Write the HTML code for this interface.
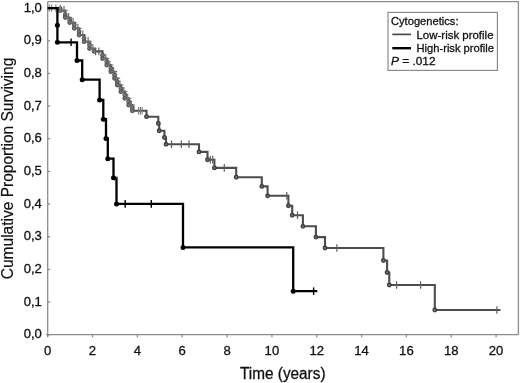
<!DOCTYPE html><html><head><meta charset="utf-8"><style>html,body{margin:0;padding:0;background:#fff;}svg{display:block;}text{font-family:"Liberation Sans",sans-serif;fill:#111;stroke:#111;stroke-width:0.3;}svg{filter:grayscale(1);}</style></head><body>
<svg width="520" height="383" viewBox="0 0 520 383">
<rect width="520" height="383" fill="#fff"/>
<g stroke="#8c8c8c" stroke-width="1.3" fill="none">
<path d="M47.7 1.6 H518.4 V334.7"/>
<path d="M47.7 1.6 V336.5"/>
<path d="M46 334.7 H518.4"/>
<path d="M47.7 334.7 v2.6"/>
<path d="M92.5 334.7 v2.6"/>
<path d="M137.4 334.7 v2.6"/>
<path d="M182.2 334.7 v2.6"/>
<path d="M227.1 334.7 v2.6"/>
<path d="M271.9 334.7 v2.6"/>
<path d="M316.7 334.7 v2.6"/>
<path d="M361.6 334.7 v2.6"/>
<path d="M406.4 334.7 v2.6"/>
<path d="M451.3 334.7 v2.6"/>
<path d="M496.1 334.7 v2.6"/>
<path d="M47.7 334.7 h2.4"/>
<path d="M47.7 302.0 h2.4"/>
<path d="M47.7 269.4 h2.4"/>
<path d="M47.7 236.7 h2.4"/>
<path d="M47.7 204.1 h2.4"/>
<path d="M47.7 171.4 h2.4"/>
<path d="M47.7 138.7 h2.4"/>
<path d="M47.7 106.1 h2.4"/>
<path d="M47.7 73.4 h2.4"/>
<path d="M47.7 40.8 h2.4"/>
<path d="M47.7 8.1 h2.4"/>
</g>
<text x="41.9" y="338.20" font-size="13.1" text-anchor="end">0,0</text>
<text x="41.9" y="305.54" font-size="13.1" text-anchor="end">0,1</text>
<text x="41.9" y="272.88" font-size="13.1" text-anchor="end">0,2</text>
<text x="41.9" y="240.22" font-size="13.1" text-anchor="end">0,3</text>
<text x="41.9" y="207.56" font-size="13.1" text-anchor="end">0,4</text>
<text x="41.9" y="174.90" font-size="13.1" text-anchor="end">0,5</text>
<text x="41.9" y="142.24" font-size="13.1" text-anchor="end">0,6</text>
<text x="41.9" y="109.58" font-size="13.1" text-anchor="end">0,7</text>
<text x="41.9" y="76.92" font-size="13.1" text-anchor="end">0,8</text>
<text x="41.9" y="44.26" font-size="13.1" text-anchor="end">0,9</text>
<text x="41.9" y="11.60" font-size="13.1" text-anchor="end">1,0</text>
<text x="47.7" y="354.8" font-size="13.1" text-anchor="middle">0</text>
<text x="92.5" y="354.8" font-size="13.1" text-anchor="middle">2</text>
<text x="137.4" y="354.8" font-size="13.1" text-anchor="middle">4</text>
<text x="182.2" y="354.8" font-size="13.1" text-anchor="middle">6</text>
<text x="227.1" y="354.8" font-size="13.1" text-anchor="middle">8</text>
<text x="271.9" y="354.8" font-size="13.1" text-anchor="middle">10</text>
<text x="316.7" y="354.8" font-size="13.1" text-anchor="middle">12</text>
<text x="361.6" y="354.8" font-size="13.1" text-anchor="middle">14</text>
<text x="406.4" y="354.8" font-size="13.1" text-anchor="middle">16</text>
<text x="451.3" y="354.8" font-size="13.1" text-anchor="middle">18</text>
<text x="496.1" y="354.8" font-size="13.1" text-anchor="middle">20</text>
<text x="240.0" y="378.6" font-size="15.6" textLength="85.5" lengthAdjust="spacingAndGlyphs">Time (years)</text>
<text transform="translate(12.7 279.2) rotate(-90)" x="0" y="0" font-size="15.6" style="stroke-width:0.2" textLength="221.5" lengthAdjust="spacingAndGlyphs">Cumulative Proportion Surviving</text>
<path d="M47.7 8.1 H60.2 V8.6 H60.2 V10.6 H65.3 V15.0 H65.3 V17.5 H69.7 V20.0 H69.7 V22.5 H74.22 V25.0 H74.22 V28.33 H79.09 V31.67 H79.09 V35.0 H84.05 V38.33 H84.05 V41.67 H89.5 V45.0 H89.5 V48.5 H94.0 V51.4 H102.55 V55.3 H102.55 V58.53 H106.75 V61.77 H106.75 V65.0 H110.8 V68.33 H110.8 V71.67 H114.48 V75.0 H114.48 V78.33 H117.22 V81.67 H117.22 V85.0 H120.85 V88.33 H120.85 V91.67 H124.77 V95.0 H124.77 V98.33 H128.63 V101.67 H128.63 V105.0 H132.38 V107.9 H132.38 V110.8 H146.5 V116.7 H158.3 V123.5 H159.2 V130.7 H164.4 V137.5 H166.0 V144.3 H199.0 V151.9 H207.5 V159.7 H214.4 V167.9 H236.2 V177.2 H261.8 V186.4 H267.6 V195.8 H288.4 V205.7 H292.2 V215.2 H302.9 V226.3 H315.9 V237.1 H325.0 V248.0 H383.4 V260.5 H387.1 V272.5 H389.3 V285.0 H434.8 V310.0 H500.5" fill="none" stroke="#4d4d4d" stroke-width="2.1" stroke-linejoin="miter"/>
<g fill="#7a7a7a" stroke="#555555" stroke-width="1.2">
<circle cx="60.2" cy="8.6" r="1.8"/>
<circle cx="60.2" cy="10.6" r="1.8"/>
<circle cx="65.3" cy="15.0" r="1.8"/>
<circle cx="65.3" cy="17.5" r="1.8"/>
<circle cx="69.7" cy="20.0" r="1.8"/>
<circle cx="69.7" cy="22.5" r="1.8"/>
<circle cx="74.22" cy="25.0" r="1.8"/>
<circle cx="74.22" cy="28.33" r="1.8"/>
<circle cx="79.09" cy="31.67" r="1.8"/>
<circle cx="79.09" cy="35.0" r="1.8"/>
<circle cx="84.05" cy="38.33" r="1.8"/>
<circle cx="84.05" cy="41.67" r="1.8"/>
<circle cx="89.5" cy="45.0" r="1.8"/>
<circle cx="89.5" cy="48.5" r="1.8"/>
<circle cx="94.0" cy="51.4" r="1.8"/>
<circle cx="102.55" cy="55.3" r="1.8"/>
<circle cx="102.55" cy="58.53" r="1.8"/>
<circle cx="106.75" cy="61.77" r="1.8"/>
<circle cx="106.75" cy="65.0" r="1.8"/>
<circle cx="110.8" cy="68.33" r="1.8"/>
<circle cx="110.8" cy="71.67" r="1.8"/>
<circle cx="114.48" cy="75.0" r="1.8"/>
<circle cx="114.48" cy="78.33" r="1.8"/>
<circle cx="117.22" cy="81.67" r="1.8"/>
<circle cx="117.22" cy="85.0" r="1.8"/>
<circle cx="120.85" cy="88.33" r="1.8"/>
<circle cx="120.85" cy="91.67" r="1.8"/>
<circle cx="124.77" cy="95.0" r="1.8"/>
<circle cx="124.77" cy="98.33" r="1.8"/>
<circle cx="128.63" cy="101.67" r="1.8"/>
<circle cx="128.63" cy="105.0" r="1.8"/>
<circle cx="132.38" cy="107.9" r="1.8"/>
<circle cx="132.38" cy="110.8" r="1.8"/>
</g>
<g fill="#6e6e6e" stroke="#3c3c3c" stroke-width="1.25">
<circle cx="146.5" cy="116.7" r="1.8"/>
<circle cx="158.3" cy="123.5" r="1.8"/>
<circle cx="159.2" cy="130.7" r="1.8"/>
<circle cx="164.4" cy="137.5" r="1.8"/>
<circle cx="166.0" cy="144.3" r="1.8"/>
<circle cx="199.0" cy="151.9" r="1.8"/>
<circle cx="207.5" cy="159.7" r="1.8"/>
<circle cx="214.4" cy="167.9" r="1.8"/>
<circle cx="236.2" cy="177.2" r="1.8"/>
<circle cx="261.8" cy="186.4" r="1.8"/>
<circle cx="267.6" cy="195.8" r="1.8"/>
<circle cx="288.4" cy="205.7" r="1.8"/>
<circle cx="292.2" cy="215.2" r="1.8"/>
<circle cx="302.9" cy="226.3" r="1.8"/>
<circle cx="315.9" cy="237.1" r="1.8"/>
<circle cx="325.0" cy="248.0" r="1.8"/>
<circle cx="383.4" cy="260.5" r="1.8"/>
<circle cx="387.1" cy="272.5" r="1.8"/>
<circle cx="389.3" cy="285.0" r="1.8"/>
<circle cx="434.8" cy="310.0" r="1.8"/>
</g>
<g stroke="#7a7a7a" stroke-width="1.1">
<path d="M138.6 107.0 v7.6"/>
<path d="M140.4 107.0 v7.6"/>
<path d="M142.1 107.0 v7.6"/>
</g>
<g stroke="#8a8a8a" stroke-width="1.3">
<path d="M49.4 4.5 v7.2"/>
<path d="M51.6 4.5 v7.2"/>
<path d="M55.8 4.5 v7.2"/>
<path d="M60.2 4.5 v7.2"/>
</g>
<g stroke="#5e5e5e" stroke-width="1.2">
<path stroke="#707070" d="M64.03 6.0 v9.2 M60.43 10.6 h7.2"/>
<path stroke="#707070" d="M68.6 12.9 v9.2 M65.0 17.5 h7.2"/>
<path stroke="#707070" d="M73.09 17.9 v9.2 M69.49000000000001 22.5 h7.2"/>
<path stroke="#707070" d="M77.87 23.7 v9.2 M74.27000000000001 28.3 h7.2"/>
<path stroke="#707070" d="M82.81 30.4 v9.2 M79.21000000000001 35.0 h7.2"/>
<path stroke="#707070" d="M88.14 37.1 v9.2 M84.54 41.7 h7.2"/>
<path stroke="#707070" d="M92.88 43.9 v9.2 M89.28 48.5 h7.2"/>
<path stroke="#707070" d="M105.7 53.9 v9.2 M102.10000000000001 58.5 h7.2"/>
<path stroke="#707070" d="M109.79 60.4 v9.2 M106.19000000000001 65.0 h7.2"/>
<path stroke="#707070" d="M113.56 67.1 v9.2 M109.96000000000001 71.7 h7.2"/>
<path stroke="#707070" d="M116.53 73.7 v9.2 M112.93 78.3 h7.2"/>
<path stroke="#707070" d="M119.94 80.4 v9.2 M116.34 85.0 h7.2"/>
<path stroke="#707070" d="M123.79 87.1 v9.2 M120.19000000000001 91.7 h7.2"/>
<path stroke="#707070" d="M127.66 93.7 v9.2 M124.06 98.3 h7.2"/>
<path stroke="#707070" d="M131.44 100.4 v9.2 M127.84 105.0 h7.2"/>
<path d="M95.6 47.6 v7.6"/>
<path d="M98.9 47.6 v7.6"/>
<path d="M171.5 140.5 v7.6"/>
<path d="M181.3 140.5 v7.6"/>
<path d="M189.0 140.5 v7.6"/>
<path d="M210.3 155.9 v7.6"/>
<path d="M212.7 155.9 v7.6"/>
<path d="M224.3 164.1 v7.6"/>
<path d="M286.8 192.0 v7.6"/>
<path d="M297.5 211.4 v7.6"/>
<path d="M336.9 244.2 v7.6"/>
<path d="M396.6 281.2 v7.6"/>
<path d="M420.6 281.2 v7.6"/>
<path d="M496.9 306.2 v7.6"/>
</g>
<path d="M47.7 8.1 H57.4 V25.2 H57.4 V42.3 H77.0 V60.5 H82.2 V79.7 H99.6 V100.0 H103.3 V119.2 H106.0 V138.4 H107.8 V158.7 H113.5 V177.8 H116.5 V203.9 H183.0 V247.4 H293.2 V291.2 H317.3" fill="none" stroke="#000" stroke-width="2.3"/>
<g stroke="#000" stroke-width="1.4">
<path d="M71.1 38.5 v7.6"/>
<path d="M125.2 200.1 v7.6"/>
<path d="M151.3 200.1 v7.6"/>
<path d="M313.6 287.4 v7.6"/>
</g>
<g stroke="#666" stroke-width="1">
<path d="M114.6 174.8 v6 M112.1 177.8 h5"/>
</g>
<g fill="#000">
<circle cx="57.4" cy="25.2" r="2.5"/>
<circle cx="57.4" cy="42.3" r="2.5"/>
<circle cx="77.0" cy="60.5" r="2.5"/>
<circle cx="82.2" cy="79.7" r="2.5"/>
<circle cx="99.6" cy="100.0" r="2.5"/>
<circle cx="103.3" cy="119.2" r="2.5"/>
<circle cx="106.0" cy="138.4" r="2.5"/>
<circle cx="107.8" cy="158.7" r="2.5"/>
<circle cx="113.5" cy="177.8" r="2.5"/>
<circle cx="116.5" cy="203.9" r="2.5"/>
<circle cx="183.0" cy="247.4" r="2.5"/>
<circle cx="293.2" cy="291.2" r="2.5"/>
</g>
<rect x="388.0" y="12.4" width="109.4" height="58.0" fill="#fff" stroke="#888" stroke-width="1.15"/>
<text x="391.0" y="25.4" font-size="11.4" textLength="67.5" lengthAdjust="spacingAndGlyphs">Cytogenetics:</text>
<path d="M392.3 34.4 H411" stroke="#4a4a4a" stroke-width="1.7"/>
<text x="416.5" y="38.7" font-size="11.4" textLength="77.0" lengthAdjust="spacingAndGlyphs">Low-risk profile</text>
<path d="M392.3 48.2 H411" stroke="#000" stroke-width="2.4"/>
<text x="416.5" y="51.7" font-size="11.4" textLength="77.5" lengthAdjust="spacingAndGlyphs">High-risk profile</text>
<text x="391.0" y="65.0" font-size="11.4" textLength="44.5" lengthAdjust="spacingAndGlyphs"><tspan font-style="italic">P</tspan> = .012</text>
</svg></body></html>
